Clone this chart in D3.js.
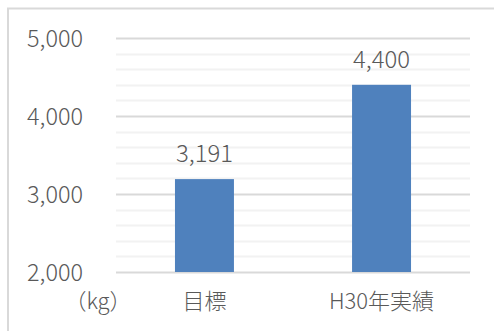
<!DOCTYPE html>
<html>
<head>
<meta charset="utf-8">
<script src="https://cdn.jsdelivr.net/npm/d3@7"></script>
<style>
  html, body { margin: 0; padding: 0; background: #fff; }
  svg { display: block; }
  text { font-family: "Noto Sans CJK JP", "Noto Sans", sans-serif; fill: #595959; font-weight: 300; }
</style>
</head>
<body>
<script>
// Annual weight: target vs. H30 actual (kg)
const categories = ["目標", "H30年実績"];
const values = [3191, 4400];
const yTicks = [2000, 3000, 4000, 5000];
const unitLabel = "（kg）";

const width = 494, height = 331;
const plot = { left: 116, right: 470, top: 38, bottom: 272 };

const svg = d3.select("body").append("svg")
  .attr("width", width).attr("height", height);

// outer chart frame
svg.append("rect")
  .attr("x", 8).attr("y", 8.5)
  .attr("width", width + 10).attr("height", height + 10)
  .attr("fill", "#fff")
  .attr("stroke", "#d9d9d9").attr("stroke-width", 2);

const x = d3.scaleBand().domain(categories)
  .range([plot.left, plot.right]).paddingInner(0.667).paddingOuter(0.333);
const y = d3.scaleLinear().domain([2000, 5000]).range([plot.bottom, plot.top]);

// minor gridlines every 200
const minor = d3.range(2200, 5000, 200).filter(v => v % 1000 !== 0);
svg.append("g").selectAll("line").data(minor).join("line")
  .attr("x1", plot.left).attr("x2", plot.right)
  .attr("y1", d => Math.round(y(d)) + 0.5).attr("y2", d => Math.round(y(d)) + 0.5)
  .attr("stroke", "#f2f2f2").attr("stroke-width", 2);

// major gridlines
svg.append("g").selectAll("line").data(yTicks).join("line")
  .attr("x1", plot.left).attr("x2", plot.right)
  .attr("y1", d => Math.round(y(d)) + 0.5).attr("y2", d => Math.round(y(d)) + 0.5)
  .attr("stroke", "#d9d9d9").attr("stroke-width", 2);

// y axis labels
const fmt = d3.format(",");
svg.append("g").selectAll("text").data(yTicks).join("text")
  .attr("x", 83).attr("y", d => y(d) + 8.5)
  .attr("text-anchor", "end")
  .attr("font-size", 23)
  .attr("textLength", 56).attr("lengthAdjust", "spacingAndGlyphs")
  .text(d => fmt(d));

// bars
svg.append("g").selectAll("rect").data(values).join("rect")
  .attr("x", (d, i) => x(categories[i]))
  .attr("width", x.bandwidth())
  .attr("y", d => y(d))
  .attr("height", d => y(2000) - y(d))
  .attr("fill", "#4f81bd");

// value labels
svg.append("g").selectAll("text").data(values).join("text")
  .attr("x", (d, i) => x(categories[i]) + x.bandwidth() / 2)
  .attr("y", d => y(d) - 17)
  .attr("text-anchor", "middle")
  .attr("font-size", 23)
  .attr("textLength", 57).attr("lengthAdjust", "spacingAndGlyphs")
  .text(d => fmt(d));

// category labels
svg.append("g").selectAll("text").data(categories).join("text")
  .attr("x", d => x(d) + x.bandwidth() / 2)
  .attr("y", 309)
  .attr("text-anchor", "middle")
  .attr("font-size", 22)
  .text(d => d);

// unit label
svg.append("text")
  .attr("x", 98).attr("y", 309)
  .attr("text-anchor", "middle")
  .attr("font-size", 22)
  .text(unitLabel);
</script>
</body>
</html>
